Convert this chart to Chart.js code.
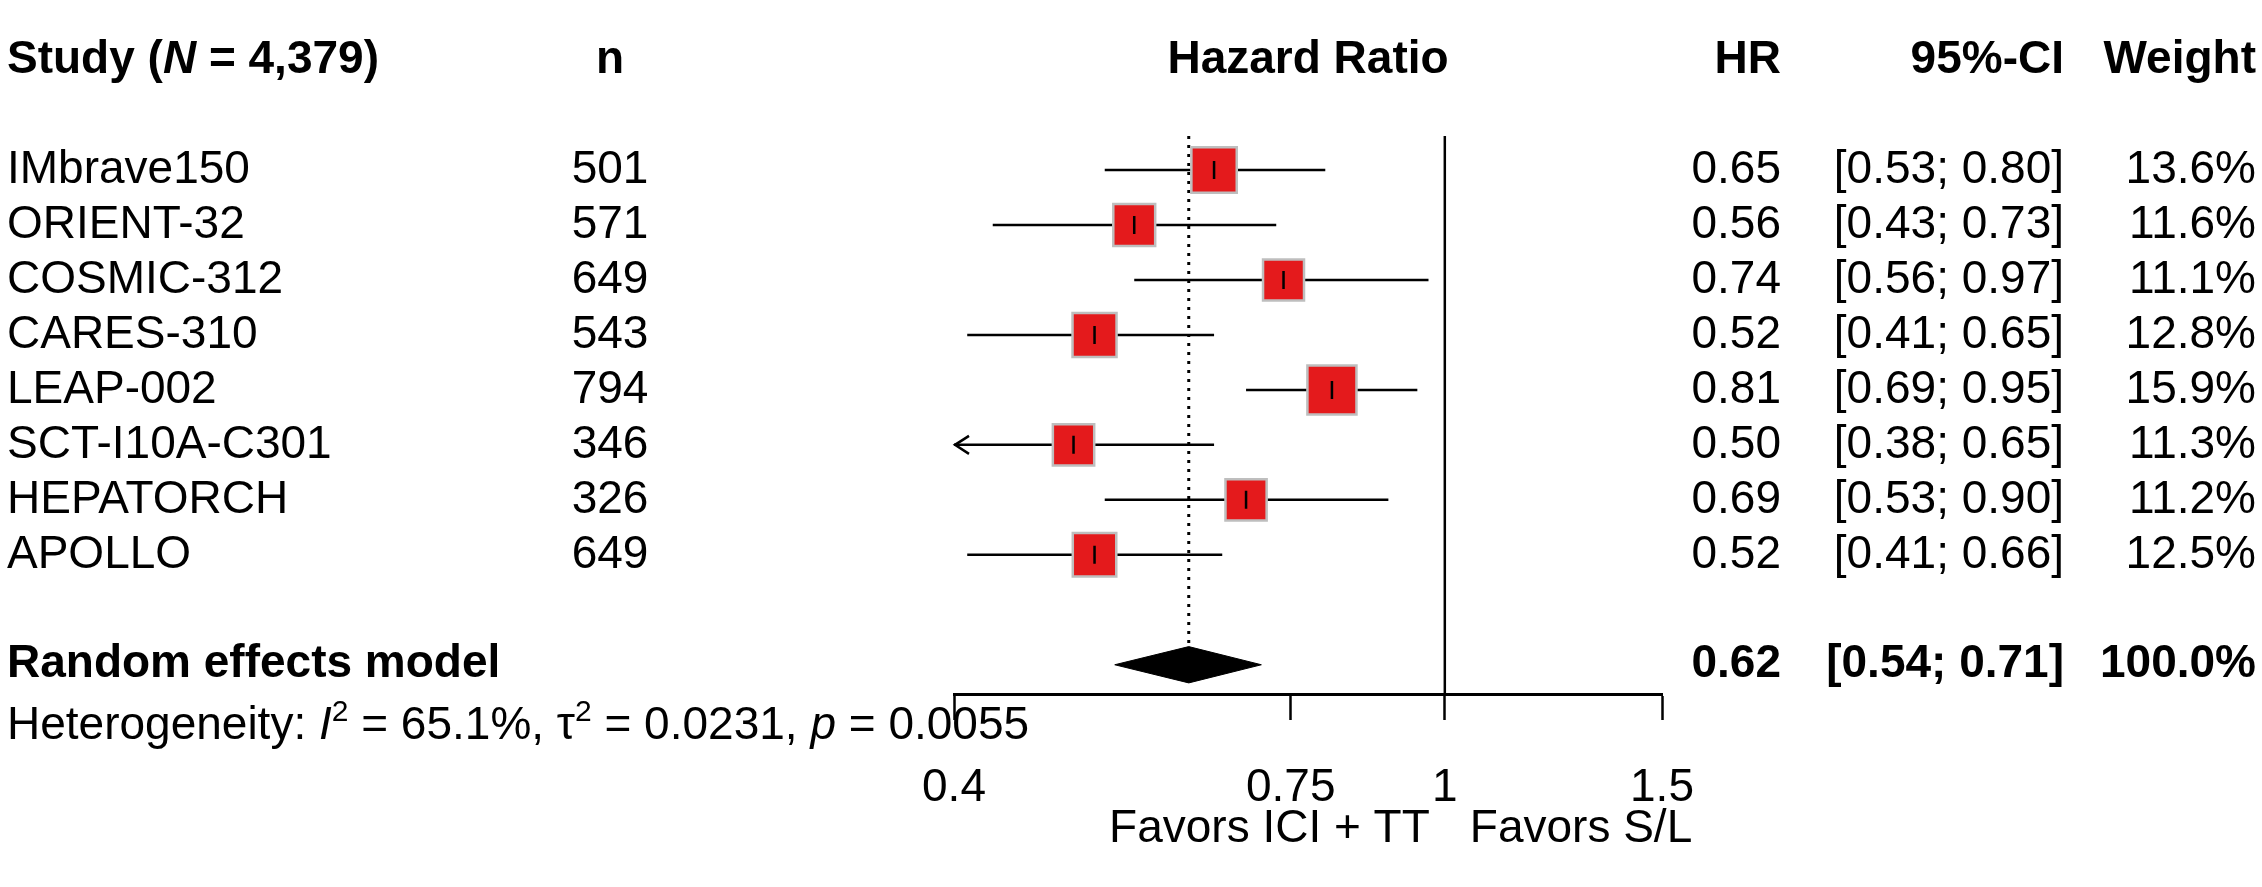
<!DOCTYPE html>
<html>
<head>
<meta charset="utf-8">
<script src="https://cdn.jsdelivr.net/npm/chart.js@4.4.1/dist/chart.umd.min.js"></script>
<style>
    html, body { margin: 0; padding: 0; background: #fff; }
    #forest { display: block; }
</style>
</head>
<body>
<canvas id="forest" width="2262" height="887"></canvas>
<script>
var studies = ['IMbrave150', 'ORIENT-32', 'COSMIC-312', 'CARES-310', 'LEAP-002', 'SCT-I10A-C301', 'HEPATORCH', 'APOLLO'];
var patients = [501, 571, 649, 543, 794, 346, 326, 649];
var hazardRatios = [0.65, 0.56, 0.74, 0.52, 0.81, 0.50, 0.69, 0.52];
var lowerCI = [0.53, 0.43, 0.56, 0.41, 0.69, 0.38, 0.53, 0.41];
var upperCI = [0.80, 0.73, 0.97, 0.65, 0.95, 0.65, 0.90, 0.66];
var weights = [13.6, 11.6, 11.1, 12.8, 15.9, 11.3, 11.2, 12.5];

var pooledHR = 0.62;
var pooledLower = 0.54;
var pooledUpper = 0.71;
var pooledWeight = 100.0;
var totalN = '4,379';
var hetI2 = '65.1%';
var hetTau2 = '0.0231';
var hetP = '0.0055';

var tickValues = [0.4, 0.75, 1, 1.5];
var tickLabels = ['0.4', '0.75', '1', '1.5'];
var favorLabels = ['Favors ICI + TT', 'Favors S/L'];

// row layout (one row = 60px)
var pooledRow = 9;
var axisRow = 9.55;
var hetRow = 10.12;
var headerRow = -2;
var favorRow = 12;
var refTop = -0.62;
var diamondHalf = 0.33;

var FONT = '"Liberation Sans", Arial, Helvetica, sans-serif';
var FS = 46;

function font(style, size) {
    return style + ' ' + size + 'px ' + FONT;
}

// draws a list of [text, style, raise, size] pieces one after another
function drawPieces(ctx, pieces, x, y) {
    pieces.forEach(function(p) {
        let size = p[3] || FS;
        ctx.font = font(p[1], size);
        ctx.fillText(p[0], x, y - (p[2] || 0));
        x += ctx.measureText(p[0]).width;
    });
}

var tablePlugin = {
    id: 'forestTable',
    afterDatasetsDraw: function(chart) {
        let ctx = chart.ctx;
        let xs = chart.scales.x;
        let ys = chart.scales.y;
        let row = r => ys.getPixelForValue(r);

        // arrows when the CI leaves the axis range
        ctx.save();
        ctx.strokeStyle = '#000';
        ctx.lineWidth = 2.5;
        lowerCI.forEach((lo, i) => {
            if (lo < xs.min) {
                let x0 = xs.getPixelForValue(xs.min);
                let y = row(i);
                ctx.beginPath();
                ctx.moveTo(x0 + 15, y - 9);
                ctx.lineTo(x0 + 1, y);
                ctx.lineTo(x0 + 15, y + 9);
                ctx.stroke();
            }
        });
        ctx.restore();

        ctx.save();
        ctx.fillStyle = '#000';
        ctx.textBaseline = 'middle';

        let studyX = 7, nX = 610, hrX = 1781, ciX = 2064, wX = 2256;
        let midX = (xs.left + xs.right) / 2;

        // header
        let hy = row(headerRow);
        ctx.textAlign = 'left';
        drawPieces(ctx, [['Study (', 'bold'], ['N', 'italic bold'], [' = ' + totalN + ')', 'bold']], studyX, hy);
        ctx.font = font('bold', FS);
        ctx.textAlign = 'center';
        ctx.fillText('n', nX, hy);
        ctx.fillText('Hazard Ratio', midX, hy);
        ctx.textAlign = 'right';
        ctx.fillText('HR', hrX, hy);
        ctx.fillText('95%-CI', ciX, hy);
        ctx.fillText('Weight', wX, hy);

        // studies
        ctx.font = font('normal', FS);
        studies.forEach((s, i) => {
            let y = row(i);
            ctx.textAlign = 'left';
            ctx.fillText(s, studyX, y);
            ctx.textAlign = 'center';
            ctx.fillText(String(patients[i]), nX, y);
            ctx.textAlign = 'right';
            ctx.fillText(hazardRatios[i].toFixed(2), hrX, y);
            ctx.fillText('[' + lowerCI[i].toFixed(2) + '; ' + upperCI[i].toFixed(2) + ']', ciX, y);
            ctx.fillText(weights[i].toFixed(1) + '%', wX, y);
        });

        // pooled row
        let py = row(pooledRow);
        ctx.font = font('bold', FS);
        ctx.textAlign = 'left';
        ctx.fillText('Random effects model', studyX, py);
        ctx.textAlign = 'right';
        ctx.fillText(pooledHR.toFixed(2), hrX, py);
        ctx.fillText('[' + pooledLower.toFixed(2) + '; ' + pooledUpper.toFixed(2) + ']', ciX, py);
        ctx.fillText(pooledWeight.toFixed(1) + '%', wX, py);

        // heterogeneity
        ctx.textAlign = 'left';
        drawPieces(ctx, [
            ['Heterogeneity: ', 'normal'],
            ['I', 'italic'],
            ['2', 'normal', 14, 30],
            [' = ' + hetI2 + ', ', 'normal'],
            ['\u03C4', 'normal'],
            ['2', 'normal', 14, 30],
            [' = ' + hetTau2 + ', ', 'normal'],
            ['p', 'italic'],
            [' = ' + hetP, 'normal']
        ], studyX, row(hetRow));

        // favours labels
        let fy = row(favorRow);
        let refX = xs.getPixelForValue(1);
        ctx.font = font('normal', FS);
        ctx.textAlign = 'right';
        ctx.fillText(favorLabels[0], refX - 15, fy);
        ctx.textAlign = 'left';
        ctx.fillText(favorLabels[1], refX + 25, fy);
        ctx.restore();
    }
};

var ciLines = studies.map((s, i) => ({
    type: 'line',
    data: [{x: lowerCI[i], y: i}, {x: upperCI[i], y: i}],
    borderColor: '#000',
    borderWidth: 2.5,
    pointRadius: 0,
    clip: 0,
    order: 5
}));

var datasets = ciLines.concat([
    {
        type: 'line',
        label: 'no effect',
        data: [{x: 1, y: refTop}, {x: 1, y: axisRow}],
        borderColor: '#000',
        borderWidth: 2.5,
        pointRadius: 0,
        order: 6
    },
    {
        type: 'line',
        label: 'pooled',
        data: [{x: pooledHR, y: refTop}, {x: pooledHR, y: pooledRow - diamondHalf}],
        borderColor: '#000',
        borderWidth: 3,
        borderDash: [3, 6],
        pointRadius: 0,
        order: 6
    },
    {
        type: 'scatter',
        data: hazardRatios.map((v, i) => ({x: v, y: i})),
        pointStyle: 'rect',
        pointRadius: weights.map(w => 12.3 * Math.sqrt(w) / Math.SQRT2),
        backgroundColor: '#E41A1C',
        borderColor: '#BEBEBE',
        borderWidth: 2.5,
        order: 2
    },
    {
        type: 'scatter',
        data: hazardRatios.map((v, i) => ({x: v, y: i})),
        pointStyle: 'line',
        rotation: 90,
        pointRadius: 9,
        borderColor: '#000',
        borderWidth: 2.5,
        order: 1
    },
    {
        type: 'line',
        data: [{x: pooledLower, y: pooledRow}, {x: pooledHR, y: pooledRow - diamondHalf}, {x: pooledUpper, y: pooledRow}],
        borderColor: '#000',
        borderWidth: 1,
        pointRadius: 0,
        fill: false,
        order: 3
    },
    {
        type: 'line',
        data: [{x: pooledLower, y: pooledRow}, {x: pooledHR, y: pooledRow + diamondHalf}, {x: pooledUpper, y: pooledRow}],
        borderColor: '#000',
        backgroundColor: '#000',
        borderWidth: 1,
        pointRadius: 0,
        fill: '-1',
        order: 3
    }
]);

var yMin = -145 / 60;
var yMax = yMin + 887 / 60;

Chart.defaults.font.family = FONT;
Chart.defaults.color = '#000';

new Chart(document.getElementById('forest').getContext('2d'), {
    type: 'line',
    data: {datasets: datasets},
    options: {
        responsive: false,
        devicePixelRatio: 1,
        animation: false,
        events: [],
        layout: {padding: {left: 954, right: 600, top: 0, bottom: 0}},
        plugins: {
            legend: {display: false},
            tooltip: {enabled: false}
        },
        scales: {
            x: {
                type: 'logarithmic',
                min: tickValues[0],
                max: tickValues[tickValues.length - 1],
                bounds: 'data',
                position: {y: axisRow},
                afterBuildTicks: function(scale) {
                    scale.ticks = tickValues.map(v => ({value: v}));
                },
                grid: {
                    drawOnChartArea: false,
                    drawTicks: true,
                    tickLength: 24,
                    tickColor: '#000',
                    tickWidth: 2.5
                },
                border: {display: true, color: '#000', width: 3},
                ticks: {
                    autoSkip: false,
                    maxRotation: 0,
                    padding: 42,
                    color: '#000',
                    font: {size: FS, family: FONT},
                    callback: function(v) {
                        let k = tickValues.indexOf(v);
                        return k >= 0 ? tickLabels[k] : '';
                    }
                }
            },
            y: {
                type: 'linear',
                reverse: true,
                min: yMin,
                max: yMax,
                display: false
            }
        }
    },
    plugins: [tablePlugin]
});
</script>
</body>
</html>
